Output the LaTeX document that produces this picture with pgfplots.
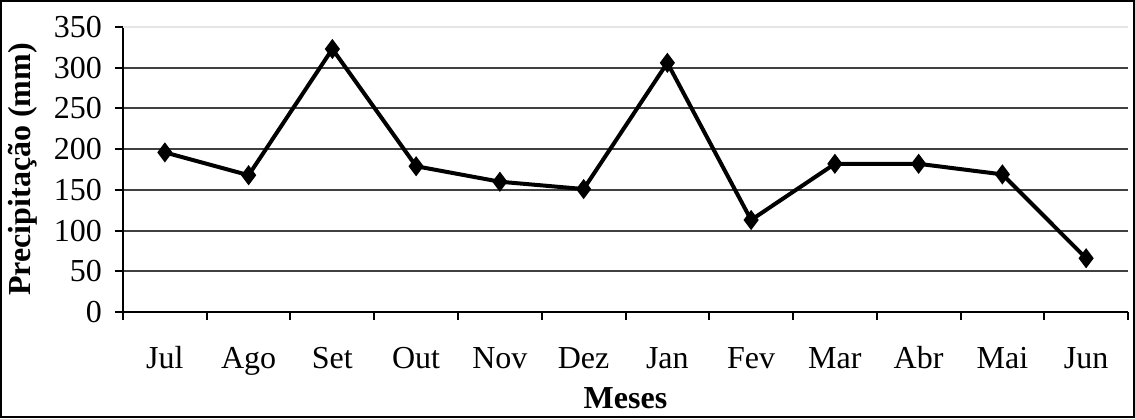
\documentclass[border=0pt]{standalone}
\usepackage{fontspec}
\setmainfont{Liberation Serif}
\usepackage{pgfplots}
\pgfplotsset{compat=1.18}
\begin{document}
\fontsize{16pt}{19pt}\selectfont
\begin{tikzpicture}
\begin{axis}[
  name=ax,
  scale only axis,
  width=502.5pt, height=142.5pt,
  xmin=-0.5, xmax=11.5,
  ymin=0, ymax=350,
  ytick={0,50,...,350},
  xtick={0,...,11},
  xticklabels={Jul,Ago,Set,Out,Nov,Dez,Jan,Fev,Mar,Abr,Mai,Jun},
  minor xtick={-0.5,0.5,...,11.5},
  major x tick style={draw=none},
  tick align=outside,
  major tick length=4pt,
  minor tick length=4pt,
  axis x line*=bottom,
  axis y line*=left,
  axis line style={line width=1pt, -},
  tick style={line width=1pt, black},
  ymajorgrids,
  major grid style={line width=1pt, black!75},
  /pgf/number format/assume math mode=true,
  ticklabel style={font=\fontsize{16pt}{19pt}\selectfont},
  xticklabel style={anchor=base, yshift=-24pt},
  yticklabel style={xshift=-1pt},
  xlabel={\textbf{Meses}},
  ylabel={\textbf{Precipitação (mm)}},
  label style={font=\fontsize{16pt}{19pt}\selectfont},
  xlabel style={at={(axis description cs:0.5,0)}, anchor=center, yshift=-43pt},
  ylabel style={at={(axis description cs:0,0.5)}, anchor=center, rotate=0, yshift=50pt},
  clip=false,
]
\addplot[black, line width=2pt, mark=diamond*, mark size=3.4pt, mark options={solid}]
  coordinates {(0,196) (1,168) (2,323) (3,179) (4,160) (5,151) (6,306) (7,113) (8,182) (9,182) (10,169) (11,66)};
\draw[black!10, line width=1pt] (axis cs:-0.5,350) -- (axis cs:11.5,350);
\end{axis}
\draw[line width=1.2pt] ([shift={(-60.9pt,-52.4pt)}]ax.south west) rectangle ([shift={(2.9pt,12.9pt)}]ax.north east);
\pgfresetboundingbox
\path[use as bounding box] ([shift={(-61.5pt,-53pt)}]ax.south west) rectangle ([shift={(3.5pt,13.5pt)}]ax.north east);
\end{tikzpicture}
\end{document}
